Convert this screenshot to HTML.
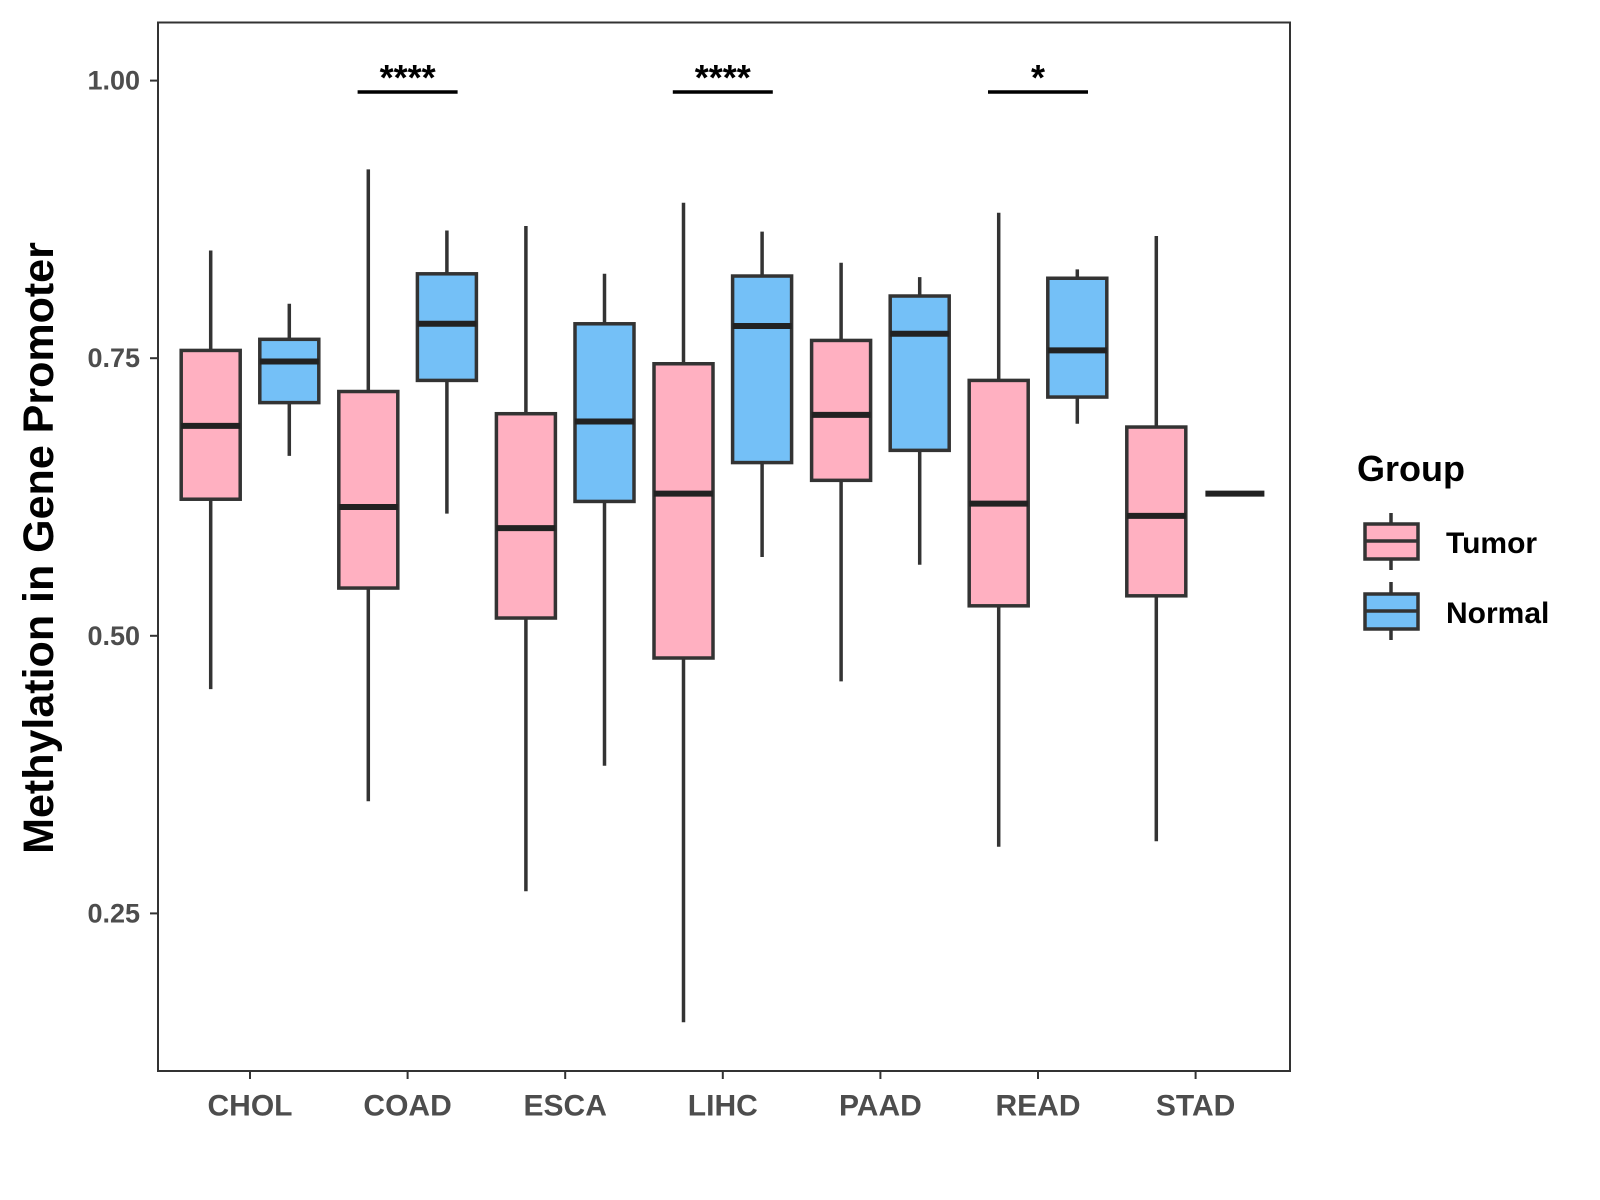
<!DOCTYPE html>
<html><head><meta charset="utf-8"><style>
html,body{margin:0;padding:0;background:#fff}
svg{display:block;font-family:"Liberation Sans",Arial,sans-serif;font-weight:bold}
</style></head><body>
<svg id="chart" width="1600" height="1200" viewBox="0 0 1600 1200">
<rect x="0" y="0" width="1600" height="1200" fill="#fff"/>
<g id="plot"></g>
<rect x="158" y="22.5" width="1132" height="1048.5" fill="none" stroke="#333" stroke-width="2"/>
<text x="39" y="548" transform="rotate(-90 39 548)" text-anchor="middle" dominant-baseline="central" font-size="43" fill="#000">Methylation in Gene Promoter</text>
<g>
<text x="1357" y="481" font-size="36" fill="#000">Group</text>
<g>
<line x1="1391" y1="513" x2="1391" y2="570" stroke="#333" stroke-width="3.5"/>
<rect x="1365" y="524" width="53" height="35" fill="#FFB0C1" stroke="#333" stroke-width="3.5"/>
<line x1="1365" y1="541" x2="1418" y2="541" stroke="#333" stroke-width="3.5"/>
<text x="1446" y="553" font-size="30" fill="#000">Tumor</text>
</g>
<g>
<line x1="1391" y1="582" x2="1391" y2="640" stroke="#333" stroke-width="3.5"/>
<rect x="1365" y="594" width="53" height="35" fill="#74C0F7" stroke="#333" stroke-width="3.5"/>
<line x1="1365" y1="611" x2="1418" y2="611" stroke="#333" stroke-width="3.5"/>
<text x="1446" y="623" font-size="30" fill="#000">Normal</text>
</g>
</g>
</svg>
<script>
const categories=["CHOL","COAD","ESCA","LIHC","PAAD","READ","STAD"];
const tumorLow=[0.452,0.351,0.270,0.152,0.459,0.310,0.315];
const tumorQ1=[0.623,0.543,0.516,0.480,0.640,0.527,0.536];
const tumorMed=[0.689,0.616,0.597,0.628,0.699,0.619,0.608];
const tumorQ3=[0.757,0.720,0.700,0.745,0.766,0.730,0.688];
const tumorHigh=[0.847,0.920,0.869,0.890,0.836,0.881,0.860];
const normalLow=[0.662,0.610,0.383,0.571,0.564,0.691,0.628];
const normalQ1=[0.710,0.730,0.621,0.656,0.667,0.715,0.628];
const normalMed=[0.747,0.781,0.693,0.779,0.772,0.757,0.628];
const normalQ3=[0.767,0.826,0.781,0.824,0.806,0.822,0.628];
const normalHigh=[0.799,0.865,0.826,0.864,0.823,0.830,0.628];
const sigLabels=["","****","","****","","*",""];
const yTicks=[0.25,0.50,0.75,1.00];
const yTickLabels=["0.25","0.50","0.75","1.00"];

const NS="http://www.w3.org/2000/svg";
const g=document.getElementById('plot');
const svg=document.getElementById('chart');
function yS(v){return 80.6+(1-v)*1110.4;}
function xS(i){return 250+i*157.6;}
function mk(tag,attrs,parent){const e=document.createElementNS(NS,tag);for(const k in attrs)e.setAttribute(k,attrs[k]);(parent||g).appendChild(e);return e;}
const stroke="#333",sw=3.5,bw=59,off=39.3;
yTicks.forEach((t,i)=>{
  const y=yS(t);
  const tk=mk('line',{x1:150,x2:158,y1:y,y2:y,stroke:"#333","stroke-width":2},svg);
  
  
  const tx=mk('text',{x:140,y:y,"text-anchor":"end","dominant-baseline":"central","font-size":27,fill:"#4d4d4d"},svg);
  tx.textContent=yTickLabels[i];
  
  
});
categories.forEach((c,i)=>{
  const x=xS(i);
  const tk=mk('line',{x1:x,x2:x,y1:1071,y2:1079,stroke:"#333","stroke-width":2},svg);
  
  
  const tx=mk('text',{x:x,y:1106,"text-anchor":"middle","dominant-baseline":"central","font-size":30,fill:"#4d4d4d"},svg);
  tx.textContent=c;
  
  
  function box(cx,lo,q1,md,q3,hi,fill,name){
    const bg=mk('g',{});
    
    
    mk('line',{x1:cx,x2:cx,y1:yS(hi),y2:yS(lo),stroke:stroke,"stroke-width":sw},bg);
    mk('rect',{x:cx-bw/2,y:yS(q3),width:bw,height:Math.max(0,yS(q1)-yS(q3)),fill:fill,stroke:stroke,"stroke-width":sw},bg);
    mk('line',{x1:cx-bw/2,x2:cx+bw/2,y1:yS(md),y2:yS(md),stroke:"#222","stroke-width":6},bg);
  }
  box(x-off,tumorLow[i],tumorQ1[i],tumorMed[i],tumorQ3[i],tumorHigh[i],"#FFB0C1","box-tumor-"+c.toLowerCase());
  box(x+off,normalLow[i],normalQ1[i],normalMed[i],normalQ3[i],normalHigh[i],"#74C0F7","box-normal-"+c.toLowerCase());
  if(sigLabels[i]){
    const l=mk('line',{x1:x-50,x2:x+50,y1:92,y2:92,stroke:"#000","stroke-width":3.5});
    
    
    const s=mk('text',{x:x,y:90,"text-anchor":"middle","font-size":36,fill:"#000"});
    s.textContent=sigLabels[i];
    
    
  }
});
</script>
</body></html>
